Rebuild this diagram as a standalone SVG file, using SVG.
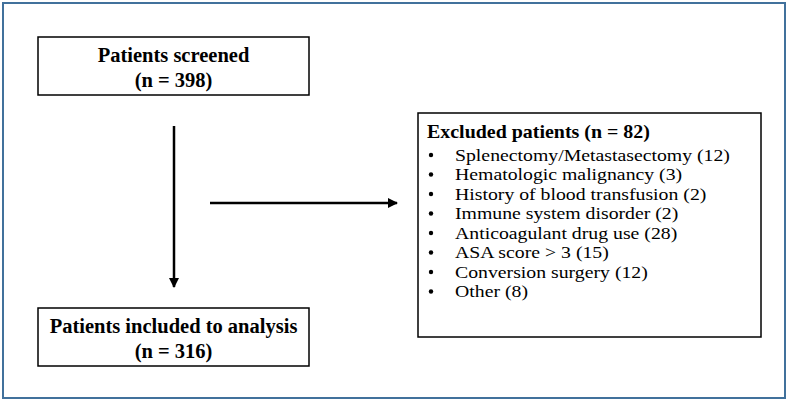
<svg xmlns="http://www.w3.org/2000/svg" width="789" height="402" viewBox="0 0 789 402">
<defs>
<style>
.frame{fill:#fff;stroke:#41719c;stroke-width:2}
.box{fill:#fff;stroke:#000;stroke-width:1.5}
.b{font-family:"Liberation Serif","Times New Roman",serif;font-weight:bold;font-size:20.5px;fill:#000}
.t{font-family:"Liberation Serif","Times New Roman",serif;font-weight:bold;font-size:19px;fill:#000}
.r{font-family:"Liberation Serif","Times New Roman",serif;font-size:17.5px;fill:#000}
.c{stroke:#000;stroke-width:2.5;fill:none}
.dot{fill:#000}
</style>
<marker id="ah" viewBox="0 0 10 10" refX="9" refY="5" markerWidth="4" markerHeight="4" orient="auto" markerUnits="strokeWidth">
<path d="M0,0 L10,5 L0,10 z" fill="#000"/>
</marker>
</defs>
<rect class="frame" x="3" y="3" width="782" height="395"/>
<g id="screened">
<rect class="box" x="38" y="37" width="271" height="58"/>
<text class="b" x="173.5" y="62" text-anchor="middle">Patients screened</text>
<text class="b" x="173.5" y="87" text-anchor="middle">(n = 398)</text>
</g>
<g id="included">
<rect class="box" x="38" y="308" width="271" height="58"/>
<text class="b" x="173.5" y="333" text-anchor="middle">Patients included to analysis</text>
<text class="b" x="173.5" y="358" text-anchor="middle">(n = 316)</text>
</g>
<g id="excluded">
<rect class="box" x="418" y="113" width="343" height="224"/>
<text class="t" transform="translate(427,138) scale(1.05,1)" x="0" y="0">Excluded patients (n = 82)</text>
<g class="dot">
<circle cx="431" cy="155" r="2.2"/>
<circle cx="431" cy="174.5" r="2.2"/>
<circle cx="431" cy="194" r="2.2"/>
<circle cx="431" cy="213.5" r="2.2"/>
<circle cx="431" cy="233" r="2.2"/>
<circle cx="431" cy="252.5" r="2.2"/>
<circle cx="431" cy="272" r="2.2"/>
<circle cx="431" cy="291.5" r="2.2"/>
</g>
<g class="r" transform="translate(455,0) scale(1.13,1)">
<text x="0" y="161">Splenectomy/Metastasectomy (12)</text>
<text x="0" y="180.5">Hematologic malignancy (3)</text>
<text x="0" y="200">History of blood transfusion (2)</text>
<text x="0" y="219.5">Immune system disorder (2)</text>
<text x="0" y="239">Anticoagulant drug use (28)</text>
<text x="0" y="258.5">ASA score &gt; 3 (15)</text>
<text x="0" y="278">Conversion surgery (12)</text>
<text x="0" y="297.5">Other (8)</text>
</g>
</g>
<g id="connectors">
<line class="c" x1="174" y1="126" x2="174" y2="287" marker-end="url(#ah)"/>
<line class="c" x1="210" y1="203" x2="397" y2="203" marker-end="url(#ah)"/>
</g>
</svg>
